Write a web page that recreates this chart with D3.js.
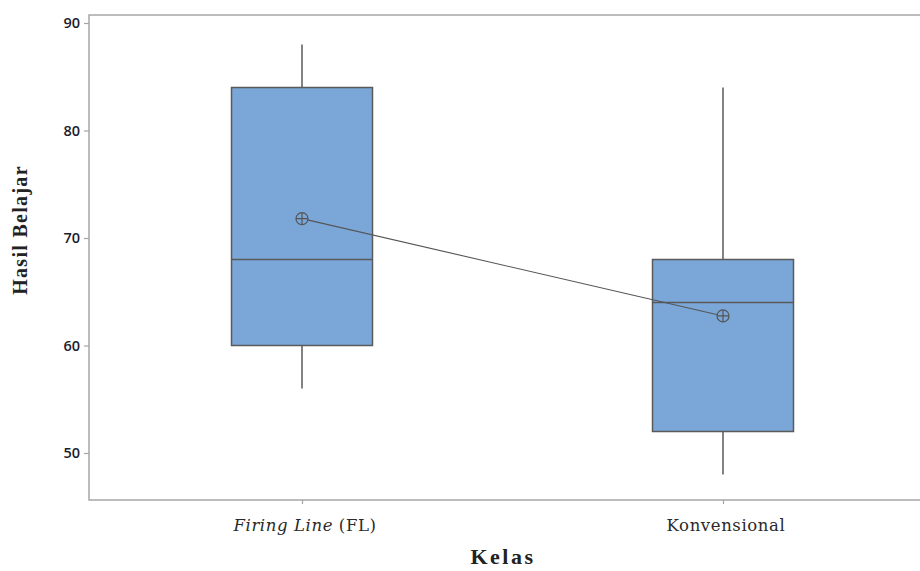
<!DOCTYPE html>
<html><head><meta charset="utf-8">
<script src="https://cdn.jsdelivr.net/npm/d3@7"></script>
<style>body{margin:0;background:#fff}</style>
</head><body>
<svg id="c" width="920" height="571"></svg>
<script>
const categories = ["Firing Line (FL)", "Konvensional"];
const whiskerLow = [56, 48];
const q1 = [60, 52];
const median = [68, 64];
const q3 = [84, 68];
const whiskerHigh = [88, 84];
const means = [71.8, 62.75];
const yTicks = [50, 60, 70, 80, 90];

const data = categories.map((c, i) => ({c, lo: whiskerLow[i], q1: q1[i], med: median[i], q3: q3[i], hi: whiskerHigh[i], mean: means[i]}));

const svg = d3.select("#c");
const pLeft = 89, pTop = 15, pBottom = 500, pRight = 936;
const y = d3.scaleLinear().domain([50, 90]).range([453, 23]);
const x = d3.scalePoint().domain(categories).range([91.5, 933.5]).padding(0.5);
const boxW = 141;

// frame
svg.append("path").attr("d", `M${pRight},${pTop}H${pLeft}V${pBottom}H${pRight}`)
  .attr("fill", "none").attr("stroke", "#a6a6a6").attr("stroke-width", 1.5);

// y axis ticks
const yAxis = svg.append("g").attr("transform", `translate(${pLeft},0)`)
  .call(d3.axisLeft(y).tickValues(yTicks).tickSize(5).tickPadding(4));
yAxis.select(".domain").remove();
yAxis.selectAll(".tick line").attr("stroke", "#a6a6a6").attr("stroke-width", 1.2);
yAxis.selectAll(".tick text").attr("fill", "#1c1c2c").style("font-family", "'Open Sans', sans-serif")
  .style("font-size", "14.5px").style("font-weight", "600");

// x axis ticks
const xAxis = svg.append("g").attr("transform", `translate(0,${pBottom})`)
  .call(d3.axisBottom(x).tickSize(4).tickFormat(""));
xAxis.select(".domain").remove();
xAxis.selectAll(".tick line").attr("stroke", "#a6a6a6").attr("stroke-width", 1.2);

// x category labels
const labs = svg.append("g");
labs.selectAll("text").data(categories).join("text")
  .attr("x", d => x(d) + 3).attr("y", 531).attr("text-anchor", "middle")
  .attr("fill", "#2a2a2a").style("font-family", "'DejaVu Serif', serif").style("font-size", "16.5px")
  .style("letter-spacing", "0.6px")
  .each(function(d) {
    const t = d3.select(this);
    if (d.startsWith("Firing Line")) {
      t.append("tspan").style("font-style", "italic").text("Firing Line");
      t.append("tspan").text(" (FL)");
    } else t.text(d);
  });

// whiskers
const g = svg.append("g");
g.selectAll(".wh").data(data).join("line").attr("class", "wh")
  .attr("x1", d => x(d.c)).attr("x2", d => x(d.c))
  .attr("y1", d => y(d.hi)).attr("y2", d => y(d.lo))
  .attr("stroke", "#5a5a5a").attr("stroke-width", 1.5);
// boxes
g.selectAll(".box").data(data).join("rect").attr("class", "box")
  .attr("x", d => x(d.c) - boxW / 2).attr("width", boxW)
  .attr("y", d => y(d.q3)).attr("height", d => y(d.q1) - y(d.q3))
  .attr("fill", "#7ba6d8").attr("stroke", "#5a5a5a").attr("stroke-width", 1.5);
// medians
g.selectAll(".med").data(data).join("line").attr("class", "med")
  .attr("x1", d => x(d.c) - boxW / 2).attr("x2", d => x(d.c) + boxW / 2)
  .attr("y1", d => y(d.med)).attr("y2", d => y(d.med))
  .attr("stroke", "#5a5a5a").attr("stroke-width", 1.5);
// mean line
g.append("path").datum(data)
  .attr("d", d3.line().x(d => x(d.c)).y(d => y(d.mean)))
  .attr("fill", "none").attr("stroke", "#555").attr("stroke-width", 1.1);
// mean symbols
const r = 6;
const ms = g.selectAll(".mean").data(data).join("g").attr("class", "mean")
  .attr("transform", d => `translate(${x(d.c)},${y(d.mean)})`);
ms.append("circle").attr("r", r).attr("fill", "#7ba6d8").attr("stroke", "#555").attr("stroke-width", 1.2);
ms.append("path").attr("d", `M${-r},0H${r}M0,${-r}V${r}`).attr("stroke", "#555").attr("stroke-width", 1.2);

// axis titles
svg.append("text").attr("transform", "translate(27,230) rotate(-90)").attr("text-anchor", "middle")
  .attr("fill", "#222").style("font-family", "'Liberation Serif', serif").style("font-weight", "bold")
  .style("font-size", "20px").style("letter-spacing", "1.3px").text("Hasil Belajar");
svg.append("text").attr("x", 503).attr("y", 564).attr("text-anchor", "middle")
  .attr("fill", "#222").style("font-family", "'Liberation Serif', serif").style("font-weight", "bold")
  .style("font-size", "22px").style("letter-spacing", "2.5px").text("Kelas");
</script>
</body></html>
